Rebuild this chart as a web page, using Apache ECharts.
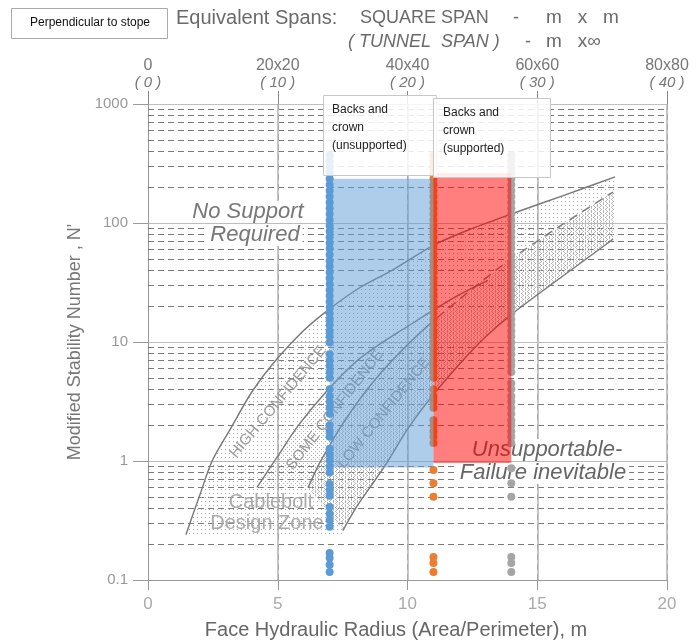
<!DOCTYPE html>
<html><head><meta charset="utf-8">
<script src="https://cdn.jsdelivr.net/npm/echarts@6/dist/echarts.min.js"></script>
<style>html,body{margin:0;padding:0;background:#fff}#c{width:696px;height:641px}</style>
</head><body><div id="c"></div>
<script>
// ---------- data ----------
const xTickValues = [0, 5, 10, 15, 20];
const topSquareLabels = ['0', '20x20', '40x40', '60x60', '80x80'];
const topTunnelLabels = ['( 0 )', '( 10 )', '( 20 )', '( 30 )', '( 40 )'];
const minorGridValues = [0.2,0.3,0.4,0.5,0.6,0.7,0.8,0.9,2,3,4,5,6,7,8,9,20,30,40,50,60,70,80,90,200,300,400,500,600,700,800,900];
const fifthLines = [5, 10, 15, 20];

// stability graph curves [hydraulic radius, N']
const curveA = [[1.46,0.24],[2.0,0.52],[2.47,1.0],[3.2,1.9],[4.0,3.8],[4.82,6.6],[6.0,12.5],[7.0,19],[8.2,29],[9.4,40],[11,65],[12.5,90],[14,119],[16,170],[18,244]];
const curveB = [[4.2,0.6],[5.0,1.1],[5.8,2.0],[6.9,3.9],[8.0,6.8],[8.9,9.5],[10.0,13.5],[10.9,18],[12.0,25],[13.1,33]];
const curveC = [[6.17,0.6],[6.6,0.95],[7.0,1.35],[7.4,1.9],[8.2,3.4],[9.0,5.6],[10.0,9.5],[10.9,14.5],[11.14,16]];
const curveE = [[11.14,16],[12.5,28],[13.83,47],[15.8,92],[17.92,182]];
const curveD = [[7.51,0.26],[8.0,0.4],[8.6,0.62],[9.2,0.96],[10.0,1.85],[10.9,3.4],[12.0,6.5],[13.0,11],[14.07,17.5],[16.0,36],[17.92,73]];
const bandFloor = [[7.51,0.23],[1.46,0.23]];

// observed N' values
const blueX = 7, orangeX = 11, grayX = 14;
const blueN = [370,330,295,263,235,210,187,167,149,133,119,106,95,85,76,68,61,54,48,43,38.5,34.4,30.7,27.4,24.5,21.8,19.5,17.4,15.5,13.9,12.4,11.1,9.9,7.9,7.0,6.3,5.6,5.0,4.0,3.5,3.15,2.8,2.5,2.0,1.78,1.6,1.27,1.13,1.01,0.9,0.8,0.64,0.57,0.51,0.41,0.36,0.32,0.28,0.169,0.153,0.134,0.117];
const orangeN = [370,330,295,263,235,210,187,167,149,133,119,106,95,85,76,68,61,54,48,43,38.5,34.4,30.7,27.4,24.5,21.8,19.5,17.4,15.5,13.9,12.4,11.1,9.9,8.8,7.9,7.0,6.3,5.6,5.0,4.0,3.5,3.15,2.8,2.2,2.0,1.78,1.6,1.42,0.84,0.65,0.50,0.156,0.139,0.117];
const grayN = [370,330,295,263,235,210,187,167,149,133,119,106,95,85,76,68,61,54,48,43,38.5,34.4,30.7,27.4,24.5,21.8,19.5,17.4,15.5,13.9,12.4,11.1,9.9,8.8,7.9,7.0,6.3,5.6,4.5,4.0,3.5,3.15,2.8,2.5,2.2,2.0,1.78,1.6,1.42,0.87,0.65,0.50,0.156,0.139,0.117];
// ranges [xFrom, xTo, nMin, nMax]
const unsupportedRange = [7, 11, 0.88, 235];
const supportedRange = [11, 14, 0.96, 263];

// ---------- helpers ----------
function makeDots(w, h, dots, color) {
  const c = document.createElement('canvas'); c.width = w; c.height = h;
  const g = c.getContext('2d'); g.fillStyle = color;
  dots.forEach(([x, y]) => g.fillRect(x, y, 1, 1));
  return c;
}
const patSparse = makeDots(4, 4, [[1,1]], '#a8a8a8');
const patMedium = makeDots(4, 4, [[3,3]], '#b0b0b0');
const patDense = makeDots(3, 2, [[0,0]], '#bcbcbc');

const zoneAll = [...curveA, ...curveD.slice().reverse(), ...bandFloor];
const zoneSome = [...curveB, ...curveE.filter(p => p[0] > 13.1), ...curveD.slice().reverse(), [6.17,0.6]];
const zoneLow = [...curveC, ...curveE.slice(1), ...curveD.slice().reverse()];

const FONT = '"Liberation Sans", "DejaVu Sans", sans-serif';
const lineCol = '#787878';

function curveSeries(name, data, dashed) {
  return { name, type: 'line', data, smooth: 0.3, symbol: 'none', z: 3, silent: true,
    lineStyle: { color: lineCol, width: 1.4, type: dashed ? [9, 6] : 'solid' } };
}
function txt(x, y, text, font, fill, extra) {
  return Object.assign({ type: 'text', z: 101, x, y, style: Object.assign({ text, font: font + ' ' + FONT, fill,
    verticalAlign: 'middle', textVerticalAlign: 'middle' }, extra || {}) });
}
const C = { align: 'center', textAlign: 'center' };

const chart = echarts.init(document.getElementById('c'));
const option = {
  animation: false,
  grid: { left: 148, top: 104, width: 519, height: 476 },
  xAxis: [
    { type: 'value', min: 0, max: 20, interval: 1, position: 'bottom',
      axisLine: { show: true, lineStyle: { color: '#999' } },
      axisTick: { show: true, customValues: xTickValues, length: 10, lineStyle: { color: '#999' } },
      axisLabel: { customValues: xTickValues, color: '#aaa', fontSize: 17, fontFamily: FONT, margin: 16 },
      splitLine: { show: true, lineStyle: { color: '#8a8a8a', type: [6, 4], width: 1 } } },
    { type: 'value', min: 0, max: 20, interval: 1, position: 'top',
      axisLine: { show: false },
      axisTick: { show: true, customValues: xTickValues, length: 13, lineStyle: { color: '#888' } },
      axisLabel: { customValues: xTickValues, margin: 13,
        formatter: v => { const i = xTickValues.indexOf(v); return '{a|' + topSquareLabels[i] + '}\n{b|' + topTunnelLabels[i] + '}'; },
        rich: { a: { fontSize: 16, color: '#777', fontFamily: FONT, lineHeight: 17, align: 'center' },
                b: { fontSize: 15, color: '#777', fontStyle: 'italic', fontFamily: FONT, lineHeight: 17, align: 'center' } } },
      splitLine: { show: false } }
  ],
  yAxis: {
    type: 'log', logBase: 10, min: 0.1, max: 1000,
    name: "Modified Stability Number , N'", nameLocation: 'middle', nameGap: 33,
    nameTextStyle: { fontSize: 18, color: '#777', fontFamily: FONT },
    axisLine: { show: true, lineStyle: { color: '#999' } },
    axisTick: { show: true, length: 15, lineStyle: { color: '#999' } },
    axisLabel: { color: '#999', fontSize: 15, fontFamily: FONT, margin: 20, formatter: v => String(v) },
    splitLine: { show: true, lineStyle: { color: '#bdbdbd', width: 1.2 } },
    minorTick: { show: false }, minorSplitLine: { show: false }
  },
  series: [
    { name: 'grid', type: 'line', data: [[0, 0.1]], symbol: 'none', z: 1, silent: true, lineStyle: { width: 0 },
      markLine: { silent: true, z: 1, symbol: 'none', label: { show: false },
        data: [
          ...minorGridValues.map(v => ({ yAxis: v, lineStyle: { color: '#7a7a7a', type: [6, 4], width: 1 } })),
          ...fifthLines.map(v => ({ xAxis: v, lineStyle: { color: '#b5b5b5', type: 'solid', width: 1.5 } }))
        ] } },
    { name: 'zones', type: 'custom', coordinateSystem: 'cartesian2d', data: [[0, 1]], z: 2, silent: true,
      renderItem: (params, api) => {
        const pts = arr => arr.map(p => api.coord(p));
        return { type: 'group', children: [
          { type: 'polygon', shape: { points: pts(zoneAll) }, style: { fill: { image: patSparse, repeat: 'repeat' } } },
          { type: 'polygon', shape: { points: pts(zoneSome) }, style: { fill: { image: patMedium, repeat: 'repeat' } } },
          { type: 'polygon', shape: { points: pts(zoneLow) }, style: { fill: { image: patDense, repeat: 'repeat' } } }
        ] };
      } },
    curveSeries('A', curveA), curveSeries('B', curveB), curveSeries('C', curveC),
    curveSeries('E', curveE, true), curveSeries('D', curveD),
    { name: 'unsupported', type: 'scatter', z: 5, symbolSize: 8, itemStyle: { color: '#5b9bd5', opacity: 1 }, data: blueN.map(v => [blueX, v]) },
    { name: 'supported', type: 'scatter', z: 5, symbolSize: 8, itemStyle: { color: '#ed7d31', opacity: 1 }, data: orangeN.map(v => [orangeX, v]) },
    { name: 'other', type: 'scatter', z: 5, symbolSize: 8, itemStyle: { color: '#a5a5a5', opacity: 1 }, data: grayN.map(v => [grayX, v]) },
    { name: 'ranges', type: 'scatter', z: 6, symbolSize: 0, data: [[unsupportedRange[0], unsupportedRange[2]]], silent: true,
      markArea: { silent: true, z: 10, label: { show: false },
        data: [
          [{ xAxis: unsupportedRange[0], yAxis: unsupportedRange[2], itemStyle: { color: 'rgba(91,155,213,0.5)' } },
           { xAxis: unsupportedRange[1], yAxis: unsupportedRange[3] }],
          [{ xAxis: supportedRange[0], yAxis: supportedRange[2], itemStyle: { color: 'rgba(255,0,0,0.5)' } },
           { xAxis: supportedRange[1], yAxis: supportedRange[3] }]
        ] } }
  ],
  graphic: [
    // header
    { type: 'rect', z: 100, shape: { x: 11.5, y: 8.5, width: 156, height: 30 }, style: { fill: '#fff', stroke: '#aaa', lineWidth: 1 } },
    txt(90, 23, 'Perpendicular to stope', '12px', '#111', C),
    txt(176, 18, 'Equivalent Spans:', '20px', '#6a6a6a'),
    txt(360, 18, 'SQUARE SPAN', '18px', '#6a6a6a'),
    txt(516, 18, '-', '18px', '#6a6a6a', C),
    txt(546, 18, 'm   x   m', '19px', '#6a6a6a'),
    txt(348, 42, '( TUNNEL  SPAN )', 'italic 18px', '#6a6a6a'),
    txt(528, 42, '-', '18px', '#6a6a6a', C),
    txt(546, 42, 'm   x\u221E', '19px', '#6a6a6a'),
    // x axis name
    txt(396, 630, 'Face Hydraulic Radius (Area/Perimeter), m', '20px', '#666', C),
    // zone annotations
    Object.assign(txt(248, 212, 'No Support', 'italic 22px', '#777', Object.assign({ backgroundColor: '#fff', padding: [0, 3] }, C)), { z: 4 }),
    Object.assign(txt(255, 235, 'Required', 'italic 22px', '#777', Object.assign({ backgroundColor: '#fff', padding: [0, 3] }, C)), { z: 4 }),
    Object.assign(txt(271, 502, 'Cablebolt', '20px', '#aaa', C), { z: 4 }),
    Object.assign(txt(267, 523, 'Design Zone', '20px', '#aaa', C), { z: 4 }),
    Object.assign(txt(278, 402, 'HIGH CONFIDENCE', '15px', '#999', C), { z: 4, rotation: 50 * Math.PI / 180 }),
    Object.assign(txt(335, 410, 'SOME CONFIDENCE', '15px', '#999', C), { z: 4, rotation: 52 * Math.PI / 180 }),
    Object.assign(txt(384, 413, 'LOW CONFIDENCE', '15px', '#999', C), { z: 4, rotation: 51 * Math.PI / 180 }),
    Object.assign(txt(547, 450, 'Unsupportable-', 'italic 22px', '#666', Object.assign({ backgroundColor: '#fff', padding: [0, 3] }, C)), { z: 4 }),
    Object.assign(txt(543, 473, 'Failure inevitable', 'italic 22px', '#666', Object.assign({ backgroundColor: '#fff', padding: [0, 3] }, C)), { z: 4 }),
    // series text boxes
    { type: 'rect', z: 100, shape: { x: 323.5, y: 95.5, width: 113, height: 80 }, style: { fill: 'rgba(255,255,255,0.85)', stroke: '#c8c8c8', lineWidth: 1 } },
    { type: 'text', z: 101, x: 332, y: 101, style: { text: 'Backs and\ncrown\n(unsupported)', font: '12px ' + FONT, fill: '#222', lineHeight: 18 } },
    { type: 'rect', z: 100, shape: { x: 433.5, y: 98.5, width: 117, height: 79 }, style: { fill: 'rgba(255,255,255,0.85)', stroke: '#c8c8c8', lineWidth: 1 } },
    { type: 'text', z: 101, x: 443, y: 104, style: { text: 'Backs and\ncrown\n(supported)', font: '12px ' + FONT, fill: '#222', lineHeight: 18 } }
  ]
};
chart.setOption(option);
</script></body></html>
